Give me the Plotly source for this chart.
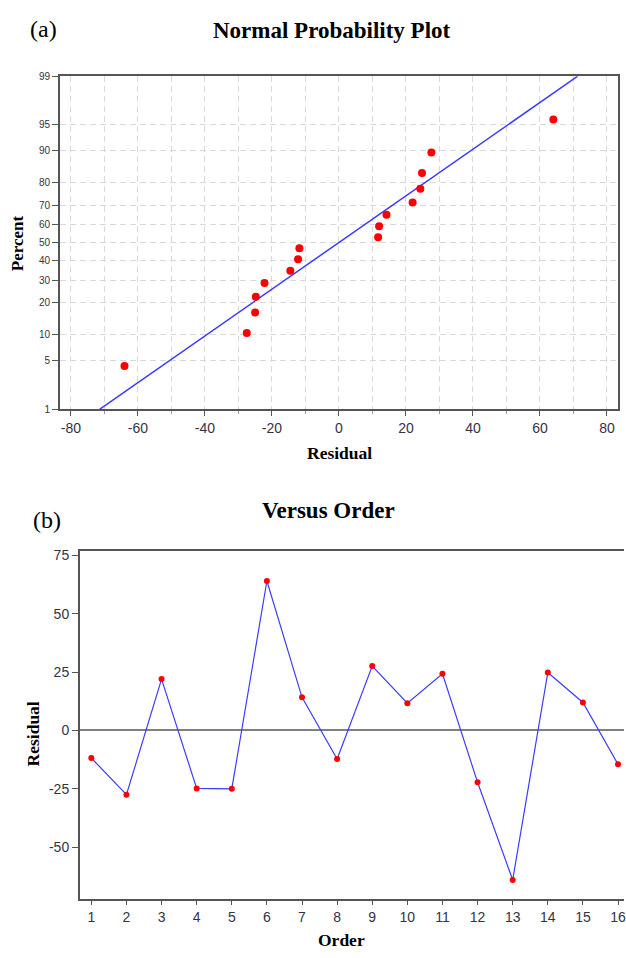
import plotly.graph_objects as go
from statistics import NormalDist, mean, stdev

# ---- data ----
order = list(range(1, 17))
residuals = [-11.8, -27.5, 22.0, -24.8, -25.0, 64.0, 14.2, -12.2,
             27.6, 11.7, 24.3, -22.2, -64.0, 24.8, 12.0, -14.5]
percent_ticks = [1, 5, 10, 20, 30, 40, 50, 60, 70, 80, 90, 95, 99]
x_ticks_top = [-80, -60, -40, -20, 0, 20, 40, 60, 80]
y_ticks_bottom = [-50, -25, 0, 25, 50, 75]

W, H = 626, 958
nd = NormalDist()
n = len(residuals)
srt = sorted(residuals)
z_pts = [nd.inv_cdf((i + 1 - 0.3) / (n + 0.4)) for i in range(n)]
mu, sd = mean(residuals), stdev(residuals)
z_lo, z_hi = nd.inv_cdf(0.01), nd.inv_cdf(0.99)
line_z = [z_lo, z_hi]
line_x = [mu + sd * z for z in line_z]

BLUE = "rgb(60,60,255)"
RED = "rgb(255,0,0)"
AX = "#555555"
GRID = "#d9d9d9"
TICKF = dict(family="Liberation Sans, Arial, sans-serif", color="#333344")
SERIF = "Liberation Serif, Times New Roman, serif"

fig = go.Figure()
fig.add_trace(go.Scatter(x=line_x, y=line_z, mode="lines",
                         line=dict(color=BLUE, width=1.5),
                         xaxis="x", yaxis="y", showlegend=False))
fig.add_trace(go.Scatter(x=srt, y=z_pts, mode="markers",
                         marker=dict(color=RED, size=8),
                         xaxis="x", yaxis="y", showlegend=False))
fig.add_trace(go.Scatter(x=order, y=residuals, mode="lines+markers",
                         line=dict(color=BLUE, width=1.2),
                         marker=dict(color=RED, size=6),
                         xaxis="x2", yaxis="y2", showlegend=False))

def px(x):
    return x / W

def py(y):
    return 1 - y / H

fig.update_layout(
    width=W, height=H,
    margin=dict(l=0, r=0, t=0, b=0),
    paper_bgcolor="white", plot_bgcolor="white",
    xaxis=dict(domain=[px(60), px(620)], range=[-83.3, 83.3],
               tickvals=x_ticks_top, ticktext=[str(v) for v in x_ticks_top],
               ticks="outside", ticklen=5,
               tickcolor=AX, tickwidth=1,
               minor=dict(dtick=10, tick0=0, ticks="outside", ticklen=3,
                          tickcolor="#999", showgrid=True, gridcolor=GRID,
                          griddash="6px,4px"),
               showgrid=True, gridcolor=GRID, griddash="6px,4px",
               zeroline=False, showline=True, linecolor=AX, linewidth=1.5,
               mirror=True, tickfont=dict(size=14, **TICKF), anchor="y",
               ticklabeloverflow="allow"),
    yaxis=dict(domain=[py(409), py(72)], range=[z_lo, z_hi],
               tickvals=[nd.inv_cdf(p / 100) for p in percent_ticks],
               ticktext=[str(p) for p in percent_ticks],
               ticks="outside", ticklen=6, tickcolor=AX,
               showgrid=True, gridcolor=GRID, griddash="6px,4px",
               zeroline=False, showline=True, linecolor=AX, linewidth=1.5,
               mirror=True, tickfont=dict(size=10, **TICKF), anchor="x"),
    xaxis2=dict(domain=[px(80), 1.0], range=[0.67, 16.17],
                tickvals=order, ticktext=[str(v) for v in order],
                ticks="outside", ticklen=5, tickcolor=AX,
                showgrid=False, zeroline=False, showline=True,
                linecolor=AX, linewidth=1.5, mirror=True,
                tickfont=dict(size=14, **TICKF), anchor="y2",
                ticklabeloverflow="allow"),
    yaxis2=dict(domain=[py(904), py(552)], range=[-72, 77],
                tickvals=y_ticks_bottom,
                ticktext=[str(v) for v in y_ticks_bottom],
                ticks="outside", ticklen=6,
                tickcolor=AX, showgrid=False, zeroline=True,
                zerolinecolor="#808080", zerolinewidth=1.5,
                showline=True, linecolor=AX, linewidth=1.5, mirror=False,
                tickfont=dict(size=14, **TICKF), anchor="x2"),
)

def ann(text, x, y, size, bold=True, angle=0):
    fig.add_annotation(text=("<b>%s</b>" % text) if bold else text,
                       x=px(x), y=py(y), xref="paper", yref="paper",
                       xanchor="center", yanchor="middle", showarrow=False,
                       textangle=angle,
                       font=dict(family=SERIF, size=size, color="black"))

ann("Normal Probability Plot", 333, 26, 23)
ann("(a)", 44, 24, 24, bold=False)
ann("Percent", 17, 241, 17)
fig.layout.annotations[-1].textangle = -90
ann("Residual", 341, 453, 17.5)
ann("Versus Order", 330, 511, 23)
ann("(b)", 47, 521, 24, bold=False)
ann("Residual", 33, 737, 17.5, angle=-90)
ann("Order", 343, 946, 17.5)

fig.write_html("out.html")
